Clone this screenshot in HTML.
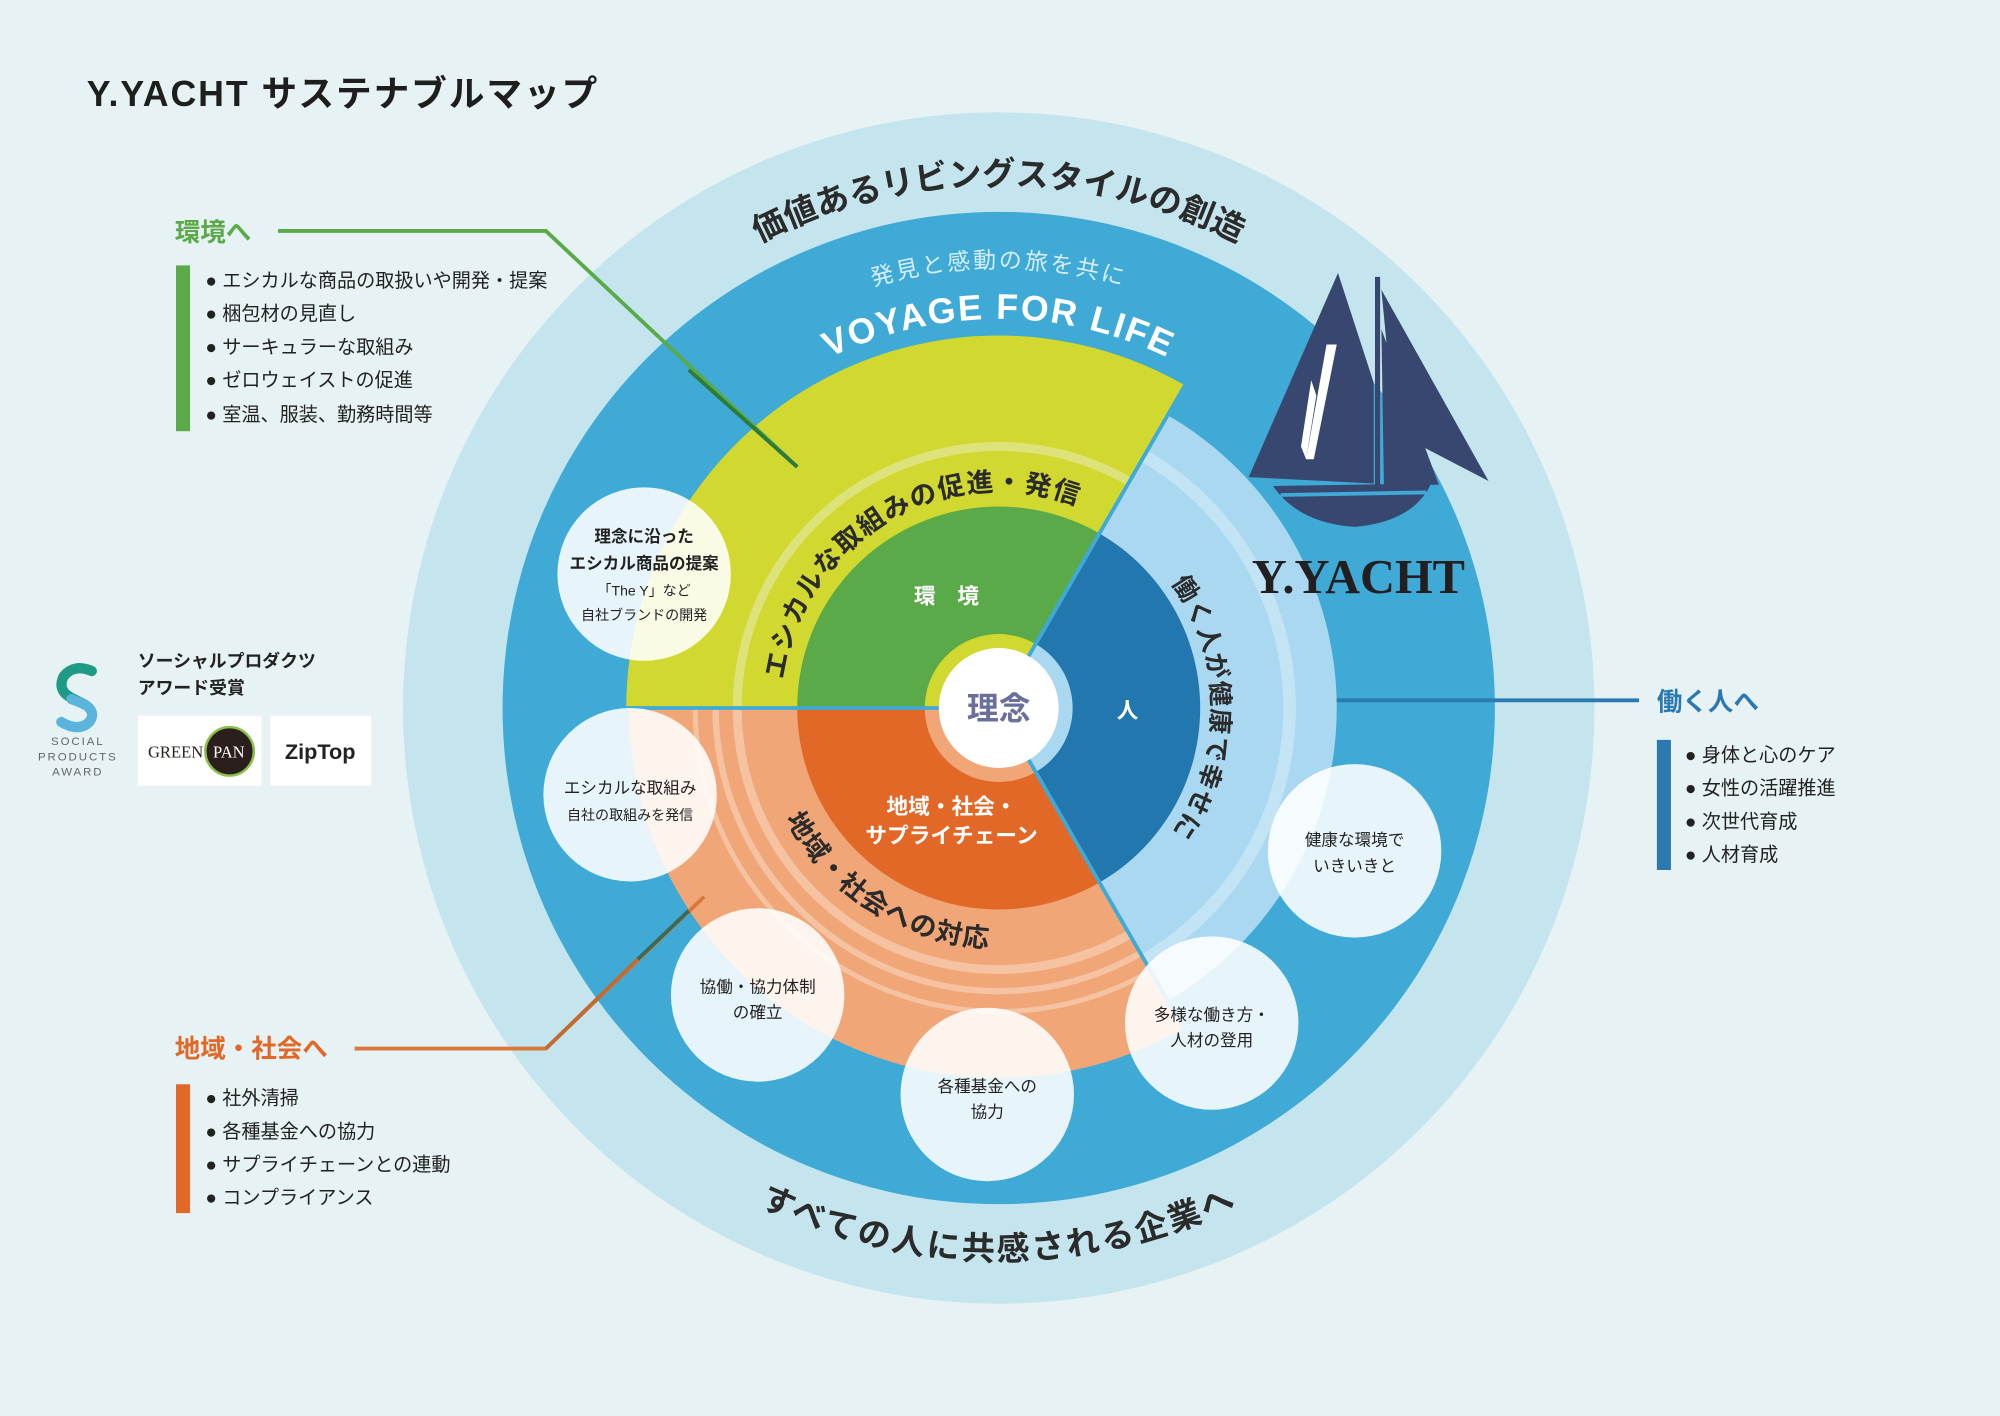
<!DOCTYPE html>
<html><head><meta charset="utf-8">
<style>
html,body{margin:0;padding:0;background:#e6f2f3;}
svg{display:block;}
text{font-family:"Liberation Sans","Noto Sans CJK JP",sans-serif;}
text.serif{font-family:"Liberation Serif","Noto Serif CJK SC",serif;}
</style></head>
<body>
<svg width="2000" height="1416" viewBox="0 0 1568 1110" xmlns="http://www.w3.org/2000/svg">
<defs>
  <path id="topArc" d="M373,555 A410 410 0 0 1 1193,555"/>
  <path id="subArc" d="M438,555 A345 345 0 0 1 1128,555"/>
  <path id="voyArc" d="M478,555 A305 305 0 0 1 1088,555"/>
  <path id="botArc" d="M350,555 A433 433 0 0 0 1216,555"/>
  <path id="yelArc" d="M613,555 A170 170 0 0 1 953,555"/>
  <path id="oraArc" d="M595,555 A188 188 0 0 0 971,555"/>
  <path id="rightArc" d="M783,388 A167 167 0 0 1 783,722"/>
  <clipPath id="cY"><path d="M783,555 L491,555 A292 292 0 0 1 929,302.1 Z"/></clipPath>
  <clipPath id="cP"><path d="M783,555 L915.5,325.5 A265 265 0 0 1 915.5,784.5 Z"/></clipPath>
  <clipPath id="cO"><path d="M783,555 L928,806.1 A290 290 0 0 1 493,555 Z"/></clipPath>
</defs>
<rect width="1568" height="1110" fill="#e6f2f3"/>

<circle cx="783" cy="555" r="467" fill="#c5e5ee"/>
<circle cx="783" cy="555" r="389" fill="#3eaad5"/>

<path d="M783,555 L491,555 A292 292 0 0 1 929,302.1 Z" fill="#d1d82f"/>
<path d="M783,555 L915.5,325.5 A265 265 0 0 1 915.5,784.5 Z" fill="#a9d8f0"/>
<path d="M783,555 L928,806.1 A290 290 0 0 1 493,555 Z" fill="#f0a676"/>
<g clip-path="url(#cY)" fill="none"><circle cx="783" cy="555" r="205" stroke="#dde37a" stroke-width="7"/></g>
<g clip-path="url(#cP)" fill="none"><circle cx="783" cy="555" r="228" stroke="#c3e4f5" stroke-width="10"/></g>
<g clip-path="url(#cO)" fill="none" stroke="#f5c2a2">
  <circle cx="783" cy="555" r="205" stroke-width="7"/>
  <circle cx="783" cy="555" r="222" stroke-width="5"/>
  <circle cx="783" cy="555" r="238" stroke-width="4"/>
</g>
<path d="M783,555 L625,555 A158 158 0 0 1 862,418.2 Z" fill="#5aaa49"/>
<path d="M783,555 L862,418.2 A158 158 0 0 1 862,691.8 Z" fill="#2277ae"/>
<path d="M783,555 L862,691.8 A158 158 0 0 1 625,555 Z" fill="#e16826"/>
<path d="M783,555 L725,555 A58 58 0 0 1 812,504.8 Z" fill="#d1d82f"/>
<path d="M783,555 L812,504.8 A58 58 0 0 1 812,605.2 Z" fill="#a9d8f0"/>
<path d="M783,555 L812,605.2 A58 58 0 0 1 725,555 Z" fill="#f0a676"/>
<g stroke="#3eaad5" stroke-width="3">
  <line x1="783" y1="555" x2="929" y2="302"/>
  <line x1="783" y1="555" x2="928" y2="806"/>
  <line x1="783" y1="555" x2="491" y2="555"/>
</g>
<circle cx="783" cy="555" r="47" fill="#fff"/>
<text x="783" y="564" text-anchor="middle" font-size="25" font-weight="bold" fill="#6b6f9c">理念</text>

<text x="742" y="473" text-anchor="middle" font-size="17" font-weight="bold" fill="#fff">環　境</text>
<text x="884" y="563" text-anchor="middle" font-size="17" font-weight="bold" fill="#fff">人</text>
<text x="746" y="638" text-anchor="middle" font-size="17" font-weight="bold" fill="#fff">地域・社会・</text>
<text x="746" y="661" text-anchor="middle" font-size="17" font-weight="bold" fill="#fff">サプライチェーン</text>

<text font-size="26" font-weight="bold" fill="#2b2b2b" text-anchor="middle"><textPath href="#topArc" startOffset="50%">価値あるリビングスタイルの創造</textPath></text>
<text font-size="18" fill="#d6eef8" text-anchor="middle" letter-spacing="2"><textPath href="#subArc" startOffset="50%">発見と感動の旅を共に</textPath></text>
<text font-size="28" font-weight="bold" fill="#fff" text-anchor="middle" letter-spacing="1.5"><textPath href="#voyArc" startOffset="50%">VOYAGE FOR LIFE</textPath></text>
<text font-size="26" font-weight="bold" fill="#2b2b2b" text-anchor="middle" letter-spacing="2"><textPath href="#botArc" startOffset="50%">すべての人に共感される企業へ</textPath></text>
<text font-size="21" font-weight="bold" fill="#2b2b2b" text-anchor="middle" letter-spacing="1"><textPath href="#yelArc" startOffset="33%">エシカルな取組みの促進・発信</textPath></text>
<text font-size="21" font-weight="bold" fill="#2b2b2b" text-anchor="middle" letter-spacing="1"><textPath href="#oraArc" startOffset="32%">地域・社会への対応</textPath></text>
<text font-size="20" font-weight="bold" fill="#2b2b2b" text-anchor="middle" letter-spacing="1"><textPath href="#rightArc" startOffset="50%">働く人が健康で幸せに</textPath></text>

<polyline points="218,181 428,181 625,366" fill="none" stroke="#5aaa49" stroke-width="3"/>
<line x1="540" y1="290" x2="625" y2="366" stroke="#2e7a3a" stroke-width="3"/>
<line x1="1048" y1="549" x2="1285" y2="549" stroke="#2b79b0" stroke-width="3"/>
<polyline points="278,822 428,822 552,703" fill="none" stroke="#d9773d" stroke-width="3"/>
<line x1="500" y1="752" x2="428" y2="822" stroke="#c36a33" stroke-width="3"/>
<line x1="540" y1="714" x2="500" y2="752" stroke="#3c6a55" stroke-width="3"/>

<g fill="#ffffff" fill-opacity="0.88">
  <circle cx="505" cy="450" r="68"/>
  <circle cx="494" cy="623" r="68"/>
  <circle cx="594" cy="780" r="68"/>
  <circle cx="774" cy="858" r="68"/>
  <circle cx="950" cy="802" r="68"/>
  <circle cx="1062" cy="667" r="68"/>
</g>
<g fill="#222" text-anchor="middle">
  <text x="505" y="425" font-size="13" font-weight="bold">理念に沿った</text>
  <text x="505" y="446" font-size="13" font-weight="bold">エシカル商品の提案</text>
  <text x="505" y="467" font-size="11">「The Y」など</text>
  <text x="505" y="486" font-size="11">自社ブランドの開発</text>
  <text x="494" y="622" font-size="13">エシカルな取組み</text>
  <text x="494" y="643" font-size="11">自社の取組みを発信</text>
  <text x="594" y="778" font-size="13">協働・協力体制</text>
  <text x="594" y="798" font-size="13">の確立</text>
  <text x="774" y="856" font-size="13">各種基金への</text>
  <text x="774" y="876" font-size="13">協力</text>
  <text x="950" y="800" font-size="13">多様な働き方・</text>
  <text x="950" y="820" font-size="13">人材の登用</text>
  <text x="1062" y="663" font-size="13">健康な環境で</text>
  <text x="1062" y="683" font-size="13">いきいきと</text>
</g>

<g fill="#37476f">
  <polygon points="1049,214 979,374 1077,379 1077,300"/>
  <polygon points="1083,227 1167,377 1115,350 1090,300"/>
  <polygon points="1083,258 1128,380 1085,380"/>
  <rect x="1078" y="217" width="4" height="175"/>
  <path d="M998,381 L1122,379 Q1108,409 1062,413 Q1018,410 998,381 Z"/>
</g>
<path d="M1028,298 L1032,310 L1024,360 L1020,350 Z M1040,270 L1048,270 L1030,360 L1024,360 Z" fill="#fff"/>
<line x1="1004" y1="388" x2="1118" y2="386" stroke="#3eaad5" stroke-width="3"/>
<text class="serif" x="1065" y="465" text-anchor="middle" font-size="38" font-weight="bold" fill="#231f20">Y.YACHT</text>

<text x="68" y="83" font-size="28" font-weight="bold" fill="#1e1e1e" letter-spacing="1.5">Y.YACHT サステナブルマップ</text>

<text x="137" y="189" font-size="20" font-weight="bold" fill="#5aaa49">環境へ</text>
<rect x="138" y="208" width="11" height="130" fill="#5aaa49"/>
<g font-size="15" fill="#222">
  <text x="161" y="225">● エシカルな商品の取扱いや開発・提案</text>
  <text x="161" y="251">● 梱包材の見直し</text>
  <text x="161" y="277">● サーキュラーな取組み</text>
  <text x="161" y="303">● ゼロウェイストの促進</text>
  <text x="161" y="330">● 室温、服装、勤務時間等</text>
</g>

<text x="1299" y="557" font-size="20" font-weight="bold" fill="#2b79b0">働く人へ</text>
<rect x="1299" y="580" width="11" height="102" fill="#2b79b0"/>
<g font-size="15" fill="#222">
  <text x="1321" y="597">● 身体と心のケア</text>
  <text x="1321" y="623">● 女性の活躍推進</text>
  <text x="1321" y="649">● 次世代育成</text>
  <text x="1321" y="675">● 人材育成</text>
</g>

<text x="137" y="829" font-size="20" font-weight="bold" fill="#e16826">地域・社会へ</text>
<rect x="138" y="850" width="11" height="101" fill="#e16826"/>
<g font-size="15" fill="#222">
  <text x="161" y="866">● 社外清掃</text>
  <text x="161" y="892">● 各種基金への協力</text>
  <text x="161" y="918">● サプライチェーンとの連動</text>
  <text x="161" y="944">● コンプライアンス</text>
</g>

<path d="M72,526 Q58,520 50,530 Q44,542 58,548 L66,552" fill="none" stroke="#1f9a85" stroke-width="8" stroke-linecap="round"/>
<path d="M56,548 L66,552 Q76,558 70,566 Q62,574 48,566" fill="none" stroke="#5ab4dc" stroke-width="8" stroke-linecap="round"/>
<g font-size="9" fill="#666" text-anchor="middle" letter-spacing="1.5">
  <text x="61" y="584">SOCIAL</text>
  <text x="61" y="596">PRODUCTS</text>
  <text x="61" y="608">AWARD</text>
</g>
<text x="108" y="523" font-size="14" font-weight="bold" fill="#222">ソーシャルプロダクツ</text>
<text x="108" y="544" font-size="14" font-weight="bold" fill="#222">アワード受賞</text>
<rect x="108" y="561" width="97" height="55" fill="#fff"/>
<rect x="212" y="561" width="79" height="55" fill="#fff"/>
<circle cx="180" cy="589" r="19" fill="#2a1f1c" stroke="#8cc04a" stroke-width="2"/>
<text class="serif" x="116" y="594" font-size="13" fill="#2a1f1c">GREEN</text>
<text class="serif" x="167" y="594" font-size="13" fill="#fff">PAN</text>
<text x="251" y="595" text-anchor="middle" font-size="17" font-weight="bold" fill="#222">ZipTop</text>
</svg>
</body></html>
